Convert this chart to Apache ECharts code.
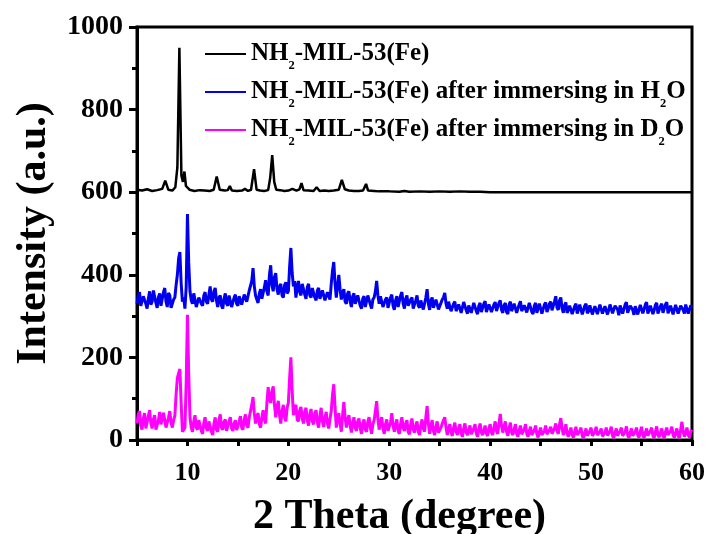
<!DOCTYPE html>
<html><head><meta charset="utf-8">
<script src="https://cdn.jsdelivr.net/npm/echarts@6/dist/echarts.min.js"></script>
<style>html,body{margin:0;padding:0;background:#fff}#c{width:710px;height:534px}</style>
</head><body><div id="c"></div>
<script>
// 2-theta sampling positions (degrees) shared by the two immersed samples
const theta = [
5,5.125,5.25,5.375,5.5,5.625,5.75,5.875,6,6.125,6.25,6.375,6.5,6.625,6.75,6.875,7,7.125,7.25,7.375,7.5,7.625,7.75,7.875,8,8.125,8.25,8.375,8.5,8.625,8.75,8.875,9,9.125,9.25,9.375,9.5,9.625,9.75,9.875,
10,10.125,10.25,10.375,10.5,10.625,10.75,10.875,11,11.125,11.25,11.375,11.5,11.625,11.75,11.875,12,12.125,12.25,12.375,12.5,12.625,12.75,12.875,13,13.125,13.25,13.375,13.5,13.625,13.75,13.875,14,14.125,14.25,14.375,14.5,14.625,14.75,14.875,
15,15.125,15.25,15.375,15.5,15.625,15.75,15.875,16,16.125,16.25,16.375,16.5,16.625,16.75,16.875,17,17.125,17.25,17.375,17.5,17.625,17.75,17.875,18,18.125,18.25,18.375,18.5,18.625,18.75,18.875,19,19.125,19.25,19.375,19.5,19.625,19.75,19.875,
20,20.125,20.25,20.375,20.5,20.625,20.75,20.875,21,21.125,21.25,21.375,21.5,21.625,21.75,21.875,22,22.125,22.25,22.375,22.5,22.625,22.75,22.875,23,23.125,23.25,23.375,23.5,23.625,23.75,23.875,24,24.125,24.25,24.375,24.5,24.625,24.75,24.875,
25,25.125,25.25,25.375,25.5,25.625,25.75,25.875,26,26.125,26.25,26.375,26.5,26.625,26.75,26.875,27,27.125,27.25,27.375,27.5,27.625,27.75,27.875,28,28.125,28.25,28.375,28.5,28.625,28.75,28.875,29,29.125,29.25,29.375,29.5,29.625,29.75,29.875,
30,30.125,30.25,30.375,30.5,30.625,30.75,30.875,31,31.125,31.25,31.375,31.5,31.625,31.75,31.875,32,32.125,32.25,32.375,32.5,32.625,32.75,32.875,33,33.125,33.25,33.375,33.5,33.625,33.75,33.875,34,34.125,34.25,34.375,34.5,34.625,34.75,34.875,
35,35.125,35.25,35.375,35.5,35.625,35.75,35.875,36,36.125,36.25,36.375,36.5,36.625,36.75,36.875,37,37.125,37.25,37.375,37.5,37.625,37.75,37.875,38,38.125,38.25,38.375,38.5,38.625,38.75,38.875,39,39.125,39.25,39.375,39.5,39.625,39.75,39.875,
40,40.125,40.25,40.375,40.5,40.625,40.75,40.875,41,41.125,41.25,41.375,41.5,41.625,41.75,41.875,42,42.125,42.25,42.375,42.5,42.625,42.75,42.875,43,43.125,43.25,43.375,43.5,43.625,43.75,43.875,44,44.125,44.25,44.375,44.5,44.625,44.75,44.875,
45,45.125,45.25,45.375,45.5,45.625,45.75,45.875,46,46.125,46.25,46.375,46.5,46.625,46.75,46.875,47,47.125,47.25,47.375,47.5,47.625,47.75,47.875,48,48.125,48.25,48.375,48.5,48.625,48.75,48.875,49,49.125,49.25,49.375,49.5,49.625,49.75,49.875,
50,50.125,50.25,50.375,50.5,50.625,50.75,50.875,51,51.125,51.25,51.375,51.5,51.625,51.75,51.875,52,52.125,52.25,52.375,52.5,52.625,52.75,52.875,53,53.125,53.25,53.375,53.5,53.625,53.75,53.875,54,54.125,54.25,54.375,54.5,54.625,54.75,54.875,
55,55.125,55.25,55.375,55.5,55.625,55.75,55.875,56,56.125,56.25,56.375,56.5,56.625,56.75,56.875,57,57.125,57.25,57.375,57.5,57.625,57.75,57.875,58,58.125,58.25,58.375,58.5,58.625,58.75,58.875,59,59.125,59.25,59.375,59.5,59.625,59.75,59.875,
60];

// NH2-MIL-53(Fe) after immersing in H2O (blue)
const intensityH2O = [
330,350,358,325,322,348,352,330,318,342,360,328,335,362,365,332,320,346,355,325,328,358,368,335,322,356,350,320,318,340,345,375,400,440,455,380,335,345,318,370,
547,430,360,338,330,355,352,322,320,345,348,330,325,350,358,335,330,352,372,340,335,360,368,338,322,345,350,325,318,342,355,330,325,350,348,322,320,345,352,330,
325,348,350,328,330,352,355,335,335,362,360,385,416,372,350,340,332,355,365,342,340,370,387,360,350,400,423,375,360,395,404,365,352,372,378,350,345,375,382,355,
360,420,465,405,372,385,345,370,385,358,350,378,380,352,342,370,378,350,345,368,372,345,338,362,368,342,340,362,365,338,335,358,360,340,378,410,431,380,345,372,
400,365,340,358,365,335,330,355,360,335,322,348,355,330,328,350,350,325,318,342,348,322,325,350,352,328,318,340,345,360,385,350,330,348,350,322,318,340,345,320,
322,345,352,325,315,338,348,322,325,350,358,330,318,342,350,325,322,340,345,318,315,338,350,325,320,338,342,316,318,345,365,330,315,338,345,320,318,340,342,316,
315,332,340,345,356,330,318,335,338,312,310,330,335,312,308,328,332,308,312,334,338,314,306,326,330,308,310,332,335,312,305,325,332,310,312,330,336,310,308,328,
330,310,306,328,334,312,310,332,338,315,308,326,332,310,305,328,335,312,310,330,330,308,306,328,336,312,308,326,330,309,312,332,334,310,305,325,332,308,310,330,
328,306,310,328,333,310,318,330,335,314,310,335,348,320,315,338,345,318,308,326,333,308,315,325,328,305,302,324,330,306,316,328,326,304,303,325,330,307,312,326,
325,304,314,324,328,305,306,328,330,306,303,324,326,304,315,328,332,307,304,325,327,316,302,326,330,306,306,328,334,308,304,325,328,315,303,324,326,304,305,327,
330,307,316,328,334,306,303,325,328,305,314,327,332,306,302,324,330,308,306,328,334,307,316,325,327,304,305,327,331,306,303,325,328,315,306,328,330,306,304,326,
322];

// NH2-MIL-53(Fe) after immersing in D2O (magenta)
const intensityD2O = [
40,62,70,35,25,52,65,28,30,58,72,40,28,50,60,25,22,48,68,38,35,66,62,30,28,55,70,42,30,48,58,110,150,162,172,90,20,25,30,140,
303,160,55,30,20,45,60,30,25,48,50,22,15,42,55,28,22,45,48,20,12,40,55,25,20,50,62,30,25,44,50,22,18,46,55,28,22,40,48,24,
20,45,58,30,25,50,62,35,30,55,70,85,104,65,40,58,65,38,30,55,72,50,40,90,128,100,90,118,130,85,55,80,95,60,40,70,85,55,45,78,
90,150,200,120,60,78,85,50,45,72,80,52,40,68,78,48,35,62,75,45,38,65,72,42,30,58,78,45,32,55,68,40,28,50,70,110,135,80,30,50,
65,40,20,60,92,55,30,48,60,35,18,42,55,30,22,45,52,28,15,40,50,25,20,45,55,30,15,38,48,70,94,50,25,45,55,28,15,38,50,22,
18,42,65,35,20,38,50,22,15,40,55,30,22,40,48,20,14,38,52,25,18,35,45,20,12,35,50,28,20,55,82,40,15,35,48,22,12,32,45,18,
15,30,40,48,55,30,12,28,38,18,10,30,42,20,12,28,38,15,8,28,40,18,12,25,35,14,10,28,38,16,8,26,40,18,12,24,35,15,10,28,
38,18,12,30,45,22,15,40,63,35,18,32,45,20,10,28,42,18,12,26,38,15,8,24,35,14,10,26,38,15,8,22,32,12,10,24,35,14,6,20,
30,12,8,22,35,14,10,24,32,15,12,28,40,22,15,38,53,28,12,24,38,15,8,20,30,12,6,20,32,12,8,22,30,10,5,18,28,10,8,22,
30,10,6,20,32,12,8,20,28,9,5,18,30,11,7,22,32,10,5,18,28,10,8,22,30,10,6,20,33,12,5,18,28,10,8,20,30,11,6,20,
32,12,5,18,28,10,8,22,30,10,5,20,33,12,7,18,28,10,5,20,30,12,8,22,32,12,6,18,28,10,5,25,44,20,8,18,30,12,6,20,
25];

// pristine NH2-MIL-53(Fe) (black)
const thetaPristine = [
5.0,5.5,6.0,6.5,7.0,7.5,7.8,8.1,8.5,8.8,9.0,9.2,9.4,9.55,9.7,9.85,10.2,10.7,11.2,11.7,
12.2,12.6,12.9,13.2,13.7,14.0,14.2,14.4,14.9,15.4,15.7,16.0,16.3,16.6,16.85,17.2,17.6,18.0,18.2,18.4,
18.6,18.8,19.2,19.6,20.0,20.4,20.8,21.1,21.3,21.5,22.0,22.5,22.8,23.1,23.6,24.0,24.5,25.0,25.3,25.6,
26.0,26.5,27.0,27.4,27.7,27.9,28.5,29.0,30.0,31.0,31.5,32.0,33.0,34.0,35.0,36.0,37.0,38.0,39.0,40.0,
50.0,60.0];
const intensityPristine = [
606,604,607,603,605,608,628,606,604,612,660,950,640,625,650,615,606,603,605,604,
603,606,638,606,604,605,615,604,603,604,608,603,606,656,606,604,603,605,635,690,
625,606,605,603,604,608,604,607,622,605,604,603,612,603,604,603,604,606,630,607,
604,603,603,604,620,604,603,602,602,601,603,601,602,601,602,601,602,601,601,600,
600,600];

const seriesNames = [
  'NH2-MIL-53(Fe)',
  'NH2-MIL-53(Fe) after immersing in H2O',
  'NH2-MIL-53(Fe) after immersing in D2O'
];
const seriesColors = ['#000000', '#0000ee', '#ff00ff'];
const xLabelValues = [10, 20, 30, 40, 50, 60];

function pairs(xs, ys) { return xs.map((x, i) => [x, ys[i]]); }

const FONT = '"Liberation Serif", "Times New Roman", serif';
const chart = echarts.init(document.getElementById('c'), null, { renderer: 'canvas' });

chart.setOption({
  animation: false,
  backgroundColor: '#ffffff',
  grid: { left: 137, right: 18, top: 27, bottom: 94, outerBoundsMode: 'none', containLabel: false,
          show: true, borderColor: '#000', borderWidth: 3, backgroundColor: 'transparent' },
  legend: {
    orient: 'vertical',
    left: 200,
    top: 31,
    icon: 'rect',
    itemWidth: 41,
    itemHeight: 2,
    itemGap: 2,
    data: seriesNames,
    formatter: function (name) { return name.replace(/([NHD])2/g, '$1{sub|2}'); },
    textStyle: {
      fontFamily: FONT, fontWeight: 'bold', fontSize: 25, color: '#000', lineHeight: 24,
      rich: {
        sub: { fontFamily: FONT, fontWeight: 'bold', fontSize: 12.5, color: '#000', lineHeight: 12, padding: [23, 0, 0, 0] }
      }
    }
  },
  xAxis: {
    type: 'value', min: 5, max: 60, interval: 5,
    name: '2 Theta (degree)', nameLocation: 'middle', nameGap: 56,
    nameTextStyle: { fontFamily: FONT, fontWeight: 'bold', fontSize: 42, color: '#000', padding: [0, 30, 0, 0] },
    axisLine: { onZero: false, lineStyle: { color: '#000', width: 3 } },
    axisTick: { inside: false, length: 6, lineStyle: { color: '#000', width: 3 } },
    axisLabel: {
      formatter: function (v) { return xLabelValues.indexOf(v) >= 0 ? String(v) : ''; },
      fontFamily: FONT, fontWeight: 'bold', fontSize: 26, color: '#000', margin: 20
    },
    splitLine: { show: false }
  },
  yAxis: {
    type: 'value', min: 0, max: 1000, interval: 200,
    name: 'Intensity (a.u.)', nameLocation: 'middle', nameGap: 82,
    nameTextStyle: { fontFamily: FONT, fontWeight: 'bold', fontSize: 42, color: '#000' },
    axisLine: { lineStyle: { color: '#000', width: 3 } },
    axisTick: { inside: false, length: 8, lineStyle: { color: '#000', width: 3 } },
    minorTick: { show: true, splitNumber: 2, length: 5, lineStyle: { color: '#000', width: 3 } },
    axisLabel: { formatter: function (v) { return String(v); }, fontFamily: FONT, fontWeight: 'bold', fontSize: 28, color: '#000', margin: 14 },
    splitLine: { show: false }
  },
  series: [
    { name: seriesNames[0], type: 'line', data: pairs(thetaPristine, intensityPristine), showSymbol: false, symbol: 'none',
      lineStyle: { color: seriesColors[0], width: 2.5 }, itemStyle: { color: seriesColors[0] } },
    { name: seriesNames[1], type: 'line', data: pairs(theta, intensityH2O), showSymbol: false, symbol: 'none',
      lineStyle: { color: seriesColors[1], width: 3 }, itemStyle: { color: seriesColors[1] } },
    { name: seriesNames[2], type: 'line', data: pairs(theta, intensityD2O), showSymbol: false, symbol: 'none',
      lineStyle: { color: seriesColors[2], width: 3 }, itemStyle: { color: seriesColors[2] } }
  ]
});
</script></body></html>
